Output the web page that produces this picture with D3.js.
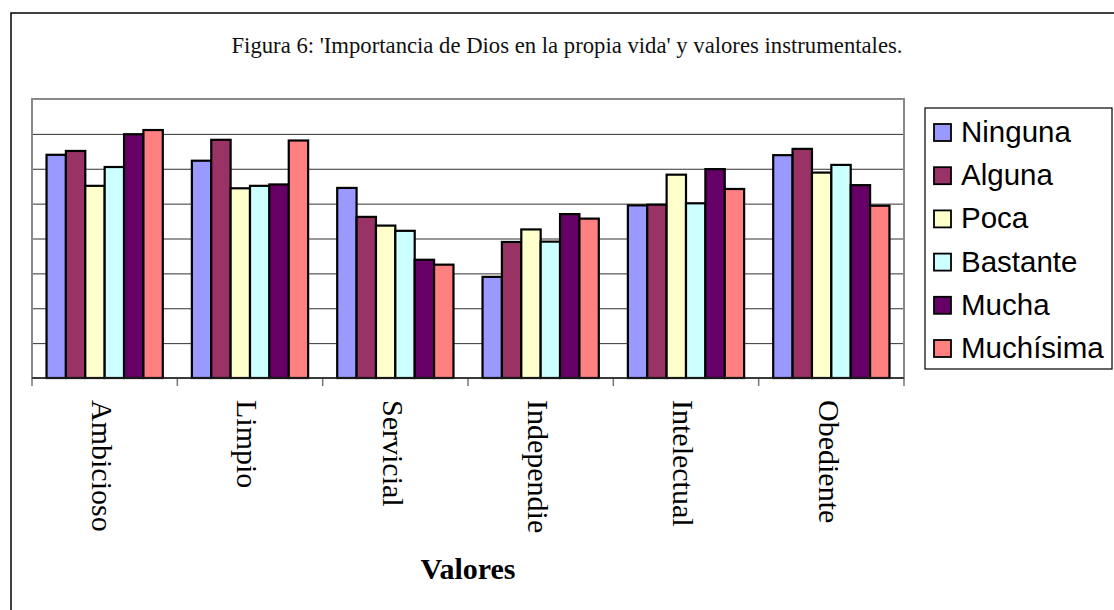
<!DOCTYPE html>
<html>
<head>
<meta charset="utf-8">
<script src="https://cdn.jsdelivr.net/npm/d3@7"></script>
<style>
  body { margin: 0; background: #fff; }
  svg { display: block; }
</style>
</head>
<body>
<script>
// Data (value axis has no labels, gridlines every 1 unit, 0..8)
const categories = ["Ambicioso", "Limpio", "Servicial", "Independie", "Intelectual", "Obediente"];
const seriesNames = ["Ninguna", "Alguna", "Poca", "Bastante", "Mucha", "Muchísima"];
const seriesColors = ["#9999FF", "#993366", "#FFFFCC", "#CCFFFF", "#660066", "#FF8080"];
const ninguna   = [6.40, 6.23, 5.45, 2.90, 4.95, 6.39];
const alguna    = [6.51, 6.83, 4.62, 3.90, 4.97, 6.57];
const poca      = [5.51, 5.44, 4.37, 4.26, 5.83, 5.89];
const bastante  = [6.05, 5.51, 4.22, 3.91, 5.01, 6.11];
const mucha     = [6.99, 5.55, 3.39, 4.70, 5.99, 5.53];
const muchisima = [7.11, 6.81, 3.25, 4.57, 5.42, 4.94];
const seriesValues = [ninguna, alguna, poca, bastante, mucha, muchisima];

const W = 1114, H = 610;
const plot = {left: 32, right: 904, top: 99, bottom: 378};

const svg = d3.select("body").append("svg")
    .attr("width", W)
    .attr("height", H);

// outer chart frame (runs off the right and bottom of the picture)
svg.append("rect")
    .attr("x", 11).attr("y", 13)
    .attr("width", W + 20).attr("height", H + 20)
    .attr("fill", "#fff")
    .attr("stroke", "#000")
    .attr("stroke-width", 1.5);

svg.append("text")
    .attr("x", 567)
    .attr("y", 53)
    .attr("text-anchor", "middle")
    .style("font-family", "'Liberation Serif', 'DejaVu Serif', serif")
    .style("font-size", "22.7px")
    .style("fill", "#111")
    .text("Figura 6: 'Importancia de Dios en la propia vida' y valores instrumentales.");

const x0 = d3.scaleBand()
    .domain(categories)
    .range([plot.left, plot.right])
    .padding(0);

const bw = x0.bandwidth();
const x1 = d3.scaleBand()
    .domain(seriesNames)
    .range([bw * 0.1, bw * 0.9])
    .padding(0);

const y = d3.scaleLinear()
    .domain([0, 8])
    .range([plot.bottom, plot.top]);

// gridlines
const grid = svg.append("g")
    .attr("transform", `translate(${plot.left},0)`)
    .call(d3.axisLeft(y).ticks(8).tickSize(-(plot.right - plot.left)).tickFormat(""));
grid.select(".domain").remove();
grid.selectAll(".tick line")
    .attr("stroke", "#333")
    .attr("stroke-width", 1)
    .attr("opacity", d => (d > 0 && d < 8) ? 1 : 0);

// plot area border
svg.append("rect")
    .attr("x", plot.left).attr("y", plot.top)
    .attr("width", plot.right - plot.left)
    .attr("height", plot.bottom - plot.top)
    .attr("fill", "none")
    .attr("stroke", "#888")
    .attr("stroke-width", 2);

// category ticks at band edges
const edges = categories.map(c => x0(c)).concat([plot.right]);
svg.append("g").selectAll("line")
    .data(edges)
    .join("line")
    .attr("x1", d => d).attr("x2", d => d)
    .attr("y1", plot.bottom).attr("y2", plot.bottom + 8)
    .attr("stroke", "#777")
    .attr("stroke-width", 1.5);

// bars
const groups = svg.append("g").selectAll("g")
    .data(categories)
    .join("g")
    .attr("transform", d => `translate(${x0(d)},0)`);

groups.selectAll("rect")
    .data((c, ci) => seriesNames.map((s, si) => ({series: s, color: seriesColors[si], value: seriesValues[si][ci]})))
    .join("rect")
    .attr("x", d => x1(d.series))
    .attr("y", d => y(d.value))
    .attr("width", x1.bandwidth())
    .attr("height", d => y(0) - y(d.value))
    .attr("fill", d => d.color)
    .attr("stroke", "#000")
    .attr("stroke-width", 2.2);

// category axis line
svg.append("line")
    .attr("x1", plot.left).attr("x2", plot.right)
    .attr("y1", plot.bottom).attr("y2", plot.bottom)
    .attr("stroke", "#222")
    .attr("stroke-width", 1.5);

// rotated category labels
svg.append("g").selectAll("text")
    .data(categories)
    .join("text")
    .attr("transform", d => `translate(${x0(d) + bw / 2},400) rotate(90)`)
    .attr("dy", "0.42em")
    .style("font-family", "'Liberation Serif', 'DejaVu Serif', serif")
    .style("font-size", "30px")
    .style("fill", "#000")
    .text(d => d);

svg.append("text")
    .attr("x", (plot.left + plot.right) / 2)
    .attr("y", 579)
    .attr("text-anchor", "middle")
    .style("font-family", "'Liberation Serif', 'DejaVu Serif', serif")
    .style("font-size", "30px")
    .style("font-weight", "bold")
    .text("Valores");

// legend
const legend = svg.append("g");
legend.append("rect")
    .attr("x", 925).attr("y", 108)
    .attr("width", 187).attr("height", 261)
    .attr("fill", "#fff")
    .attr("stroke", "#000")
    .attr("stroke-width", 1.2);

const items = legend.selectAll("g.item")
    .data(seriesNames)
    .join("g")
    .attr("class", "item")
    .attr("transform", (d, i) => `translate(934,${142 + i * 43.2})`);

items.append("rect")
    .attr("x", 0).attr("y", -18)
    .attr("width", 17).attr("height", 17)
    .attr("fill", (d, i) => seriesColors[i])
    .attr("stroke", "#000")
    .attr("stroke-width", 1.8);

items.append("text")
    .attr("x", 27)
    .attr("y", 0)
    .style("font-family", "'Liberation Sans', Arial, sans-serif")
    .style("font-size", "29.5px")
    .text(d => d);
</script>
</body>
</html>
